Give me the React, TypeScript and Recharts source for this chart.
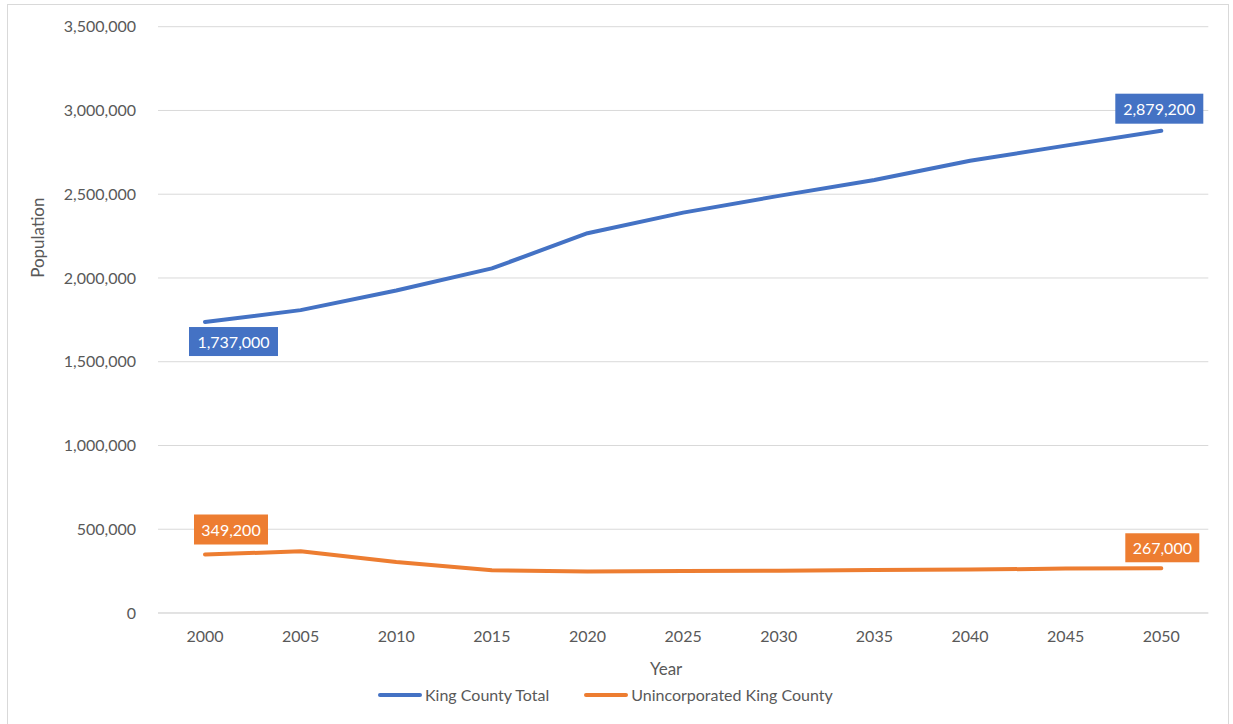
import React from 'react';
import { LineChart, Line, XAxis, YAxis, CartesianGrid, Legend, LabelList, Label } from 'recharts';

const years = ['2000', '2005', '2010', '2015', '2020', '2025', '2030', '2035', '2040', '2045', '2050'];
const kingCountyTotal = [1737000, 1808000, 1925000, 2057000, 2267000, 2390000, 2490000, 2585000, 2700000, 2790000, 2879200];
const unincorporatedKingCounty = [349200, 368000, 305000, 255000, 247000, 251000, 252000, 257000, 259000, 265000, 267000];
const yTicks = [0, 500000, 1000000, 1500000, 2000000, 2500000, 3000000, 3500000];
const seriesNames = ['King County Total', 'Unincorporated King County'];
const seriesColors = ['#4472C4', '#ED7D31'];

const data = years.map((year, i) => ({
  year,
  total: kingCountyTotal[i],
  uninc: unincorporatedKingCounty[i],
}));

const FONT = 'Lato, "Noto Sans", sans-serif';
const TEXT = '#595959';
const GRID = '#d9d9d9';
const fmt = (v: number) => v.toLocaleString('en-US');

type BoxSpec = { dx: number; dy: number; w: number; h: number };

const makeLabel = (color: string, first: BoxSpec, last: BoxSpec) => (props: any) => {
  const { x, y, value, index } = props;
  let spec: BoxSpec | null = null;
  if (index === 0) spec = first;
  else if (index === years.length - 1) spec = last;
  if (!spec) return null;
  const bx = x + spec.dx;
  const by = y + spec.dy;
  return (
    <g>
      <rect x={bx} y={by} width={spec.w} height={spec.h} fill={color} />
      <text
        x={bx + spec.w / 2}
        y={by + spec.h / 2}
        textAnchor="middle"
        dominantBaseline="central"
        fill="#ffffff"
        fontFamily={FONT}
        fontSize={16}
      >
        {fmt(value)}
      </text>
    </g>
  );
};

const totalLabel = makeLabel(
  seriesColors[0],
  { dx: -16, dy: 5, w: 89, h: 29 },
  { dx: -46, dy: -37, w: 88, h: 30 }
);
const uncLabel = makeLabel(
  seriesColors[1],
  { dx: -11, dy: -40, w: 74, h: 30 },
  { dx: -36, dy: -35, w: 74, h: 29 }
);

const renderLegend = () => (
  <div
    style={{
      display: 'flex',
      alignItems: 'center',
      fontFamily: FONT,
      fontSize: 16,
      color: TEXT,
      whiteSpace: 'nowrap',
      lineHeight: '20px',
    }}
  >
    {seriesNames.map((n, i) => (
      <div key={n} style={{ display: 'flex', alignItems: 'center', marginRight: i === 0 ? 35 : 0 }}>
        <svg width={44} height={8} style={{ display: 'block' }}>
          <line x1={2} y1={4} x2={42} y2={4} stroke={seriesColors[i]} strokeWidth={4} strokeLinecap="round" />
        </svg>
        <span style={{ marginLeft: 3 }}>{n}</span>
      </div>
    ))}
  </div>
);

export default function App() {
  return (
    <div
      style={{
        position: 'absolute',
        left: 0,
        top: 0,
        width: 1233,
        height: 724,
        overflow: 'hidden',
        background: '#ffffff',
      }}
    >
      <div
        style={{
          position: 'absolute',
          left: 7,
          top: 4,
          width: 1222,
          height: 740,
          border: `1px solid ${GRID}`,
          boxSizing: 'border-box',
        }}
      />
      <LineChart
        width={1233}
        height={724}
        data={data}
        margin={{ top: 26.7, right: 24.7, left: 0, bottom: 0 }}
        style={{ position: 'absolute', left: 0, top: 0 }}
      >
        <CartesianGrid vertical={false} stroke={GRID} strokeWidth={1} />
        <XAxis
          dataKey="year"
          height={111}
          padding={{ left: 47, right: 47 }}
          tickLine={false}
          axisLine={{ stroke: GRID }}
          tickMargin={11.5}
          tick={{ fill: TEXT, fontSize: 16, fontFamily: FONT }}
          interval={0}
        >
          <Label
            content={(p: any) => {
              const vb = p.viewBox || {};
              return (
                <text
                  x={vb.x + vb.width / 2 - 17}
                  y={vb.y + 55}
                  textAnchor="middle"
                  dominantBaseline="central"
                  fill={TEXT}
                  fontFamily={FONT}
                  fontSize={17}
                >
                  Year
                </text>
              );
            }}
          />
        </XAxis>
        <YAxis
          width={158}
          domain={[0, 3500000]}
          ticks={yTicks}
          tickFormatter={fmt}
          tickLine={false}
          axisLine={false}
          tickMargin={16}
          tick={{ fill: TEXT, fontSize: 16, fontFamily: FONT }}
        >
          <Label
            content={(p: any) => {
              const vb = p.viewBox || {};
              const cx = vb.x + 38;
              const cy = vb.y + 211;
              return (
                <text
                  x={cx}
                  y={cy}
                  transform={`rotate(-90 ${cx} ${cy})`}
                  textAnchor="middle"
                  dominantBaseline="central"
                  fill={TEXT}
                  fontFamily={FONT}
                  fontSize={17}
                >
                  Population
                </text>
              );
            }}
          />
        </YAxis>
        <Legend
          layout="horizontal"
          verticalAlign="middle"
          align="center"
          content={renderLegend}
          wrapperStyle={{ top: 685, left: 378, width: 480, height: 20 }}
        />
        <Line
          type="linear"
          dataKey="total"
          name={seriesNames[0]}
          stroke={seriesColors[0]}
          strokeWidth={4}
          strokeLinecap="round"
          strokeLinejoin="round"
          dot={false}
          activeDot={false}
          isAnimationActive={false}
        >
          <LabelList dataKey="total" content={totalLabel} />
        </Line>
        <Line
          type="linear"
          dataKey="uninc"
          name={seriesNames[1]}
          stroke={seriesColors[1]}
          strokeWidth={4}
          strokeLinecap="round"
          strokeLinejoin="round"
          dot={false}
          activeDot={false}
          isAnimationActive={false}
        >
          <LabelList dataKey="uninc" content={uncLabel} />
        </Line>
      </LineChart>
    </div>
  );
}
